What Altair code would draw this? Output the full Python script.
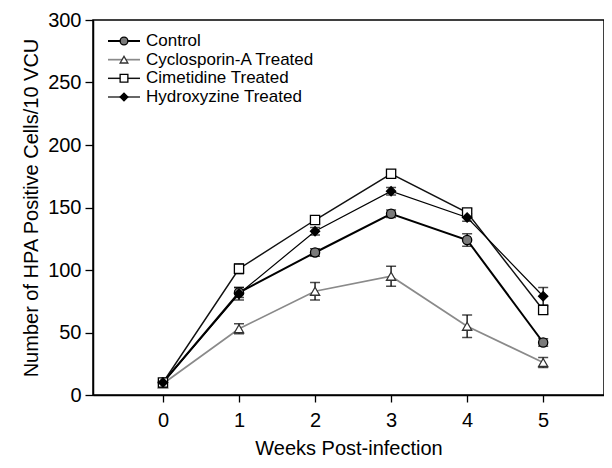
import altair as alt
import pandas as pd

weeks = [0, 1, 2, 3, 4, 5]
series_names = ["Control", "Cyclosporin-A Treated", "Cimetidine Treated", "Hydroxyzine Treated"]
control = [10, 82, 114, 145, 124, 42]
control_err = [1, 4, 3, 3, 5, 3]
cyclosporin = [9, 53, 83, 95, 55, 26]
cyclosporin_err = [1, 4, 7, 8, 9, 4]
cimetidine = [10, 101, 140, 177, 146, 68]
cimetidine_err = [1, 4, 3, 3, 3, 3]
hydroxyzine = [10, 81, 131, 163, 142, 79]
hydroxyzine_err = [1, 5, 3, 3, 3, 7]

rows = []
for name, vals, errs in zip(series_names,
                            [control, cyclosporin, cimetidine, hydroxyzine],
                            [control_err, cyclosporin_err, cimetidine_err, hydroxyzine_err]):
    for w, v, e in zip(weeks, vals, errs):
        rows.append({"series": name, "week": w, "value": v, "lo": v - e, "hi": v + e})
df = pd.DataFrame(rows)
leg = pd.DataFrame({"series": series_names, "idx": list(range(len(series_names)))})

FONT = "Liberation Sans"
xscale = alt.Scale(domain=[-0.92, 5.80], nice=False, zero=False)
yscale = alt.Scale(domain=[0, 300], nice=False)

color_scale = alt.Scale(domain=series_names, range=["#000000", "#8a8a8a", "#111111", "#000000"])
width_scale = alt.Scale(domain=series_names, range=[2, 1.2, 1.5, 3])
shape_scale = alt.Scale(domain=series_names, range=["circle", "triangle-up", "square", "diamond"])
fill_scale = alt.Scale(domain=series_names, range=["#7a7a7a", "#ffffff", "#ffffff", "#000000"])
stroke_scale = alt.Scale(domain=series_names, range=["#000000", "#333333", "#000000", "#000000"])

xaxis = alt.Axis(title="Weeks Post-infection", values=weeks, format="d", grid=False,
                 tickSize=7, labelPadding=8, titlePadding=8)
yaxis = alt.Axis(title="Number of HPA Positive Cells/10 VCU", values=[0, 50, 100, 150, 200, 250, 300],
                 grid=False, tickSize=8, labelPadding=4, titlePadding=6)
X = alt.X("week:Q", scale=xscale, axis=xaxis)
Y = alt.Y("value:Q", scale=yscale, axis=yaxis)

base = alt.Chart(df)
rules = base.mark_rule(color="black", strokeWidth=1.3).encode(
    x=X, y=alt.Y("lo:Q", scale=yscale, axis=yaxis), y2="hi:Q")
cap_lo = base.mark_tick(color="black", orient="horizontal", size=10, thickness=1.5).encode(
    x=X, y=alt.Y("lo:Q", scale=yscale, axis=yaxis))
cap_hi = base.mark_tick(color="black", orient="horizontal", size=10, thickness=1.5).encode(
    x=X, y=alt.Y("hi:Q", scale=yscale, axis=yaxis))
lines = base.mark_line().encode(
    x=X, y=Y,
    color=alt.Color("series:N", scale=color_scale, legend=None),
    strokeWidth=alt.StrokeWidth("series:N", scale=width_scale, legend=None),
    detail="series:N")
points = base.mark_point(filled=False, size=85, strokeWidth=1.3, opacity=1).encode(
    x=X, y=Y,
    shape=alt.Shape("series:N", scale=shape_scale, legend=None),
    fill=alt.Fill("series:N", scale=fill_scale, legend=None),
    stroke=alt.Stroke("series:N", scale=stroke_scale, legend=None))

main = alt.layer(rules, cap_lo, cap_hi, lines, points)

LY = alt.Y("idx:Q", scale=alt.Scale(domain=[0, 3], range=[21, 77]), axis=None)
lbase = alt.Chart(leg)
leg_line = lbase.mark_rule().encode(
    x=alt.value(15), x2=alt.value(47), y=LY,
    color=alt.Color("series:N", scale=color_scale, legend=None),
    strokeWidth=alt.StrokeWidth("series:N", scale=width_scale, legend=None))
leg_pt = lbase.mark_point(filled=False, size=60, strokeWidth=1.3, opacity=1).encode(
    x=alt.value(31), y=LY,
    shape=alt.Shape("series:N", scale=shape_scale, legend=None),
    fill=alt.Fill("series:N", scale=fill_scale, legend=None),
    stroke=alt.Stroke("series:N", scale=stroke_scale, legend=None))
leg_txt = lbase.mark_text(align="left", baseline="middle", fontSize=17, font=FONT, color="black").encode(
    x=alt.value(53), y=LY, text="series:N")
legend = alt.layer(leg_line, leg_pt, leg_txt)

chart = alt.layer(main, legend).resolve_scale(y="independent").properties(
    width=511, height=375,
    autosize=alt.AutoSizeParams(type="none"),
    padding={"left": 85, "top": 12, "right": 0, "bottom": 64},
    background="white",
).configure_view(stroke="black", strokeWidth=1.5).configure_axis(
    labelFont=FONT, titleFont=FONT, labelFontSize=20, titleFontSize=20,
    labelColor="black", titleColor="black", titleFontWeight="normal",
    domainColor="black", tickColor="black", domainWidth=1.5, tickWidth=1.3,
)

chart.save("out.html", embed_options={"renderer": "svg", "actions": False})
